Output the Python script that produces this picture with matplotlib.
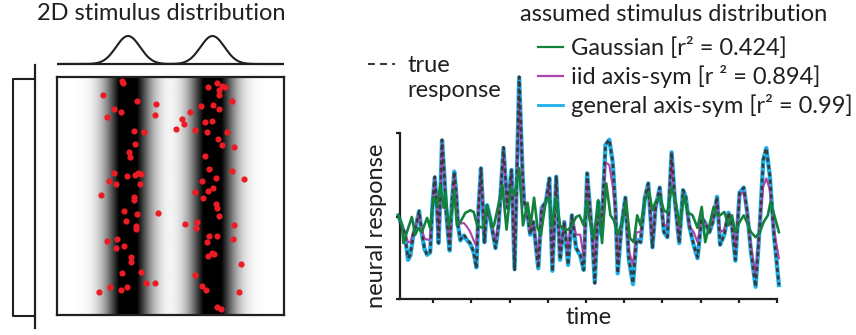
import numpy as np
import matplotlib
matplotlib.use("Agg")
import matplotlib.pyplot as plt
from matplotlib.lines import Line2D

plt.rcParams['font.family'] = ['Lato', 'DejaVu Sans']

W, H = 856, 335
INK = "#231f20"

# ---- left panel: 2D stimulus samples (image units, y up) ----
dots_x = [0.288, 0.290, 0.201, 0.353, 0.437, 0.250, 0.284, 0.221, 0.432, 0.340,
          0.382, 0.344, 0.316, 0.322, 0.253, 0.307, 0.343, 0.359, 0.369, 0.231,
          0.262, 0.366, 0.193, 0.340, 0.341, 0.446, 0.297, 0.353, 0.306, 0.350,
          0.347, 0.221, 0.265, 0.260, 0.293, 0.326, 0.324, 0.368, 0.285, 0.394,
          0.431, 0.234, 0.309, 0.284, 0.184,
          0.706, 0.666, 0.725, 0.740, 0.715, 0.713, 0.769, 0.634, 0.688, 0.712,
          0.588, 0.551, 0.560, 0.524, 0.651, 0.682, 0.606, 0.660, 0.747, 0.710,
          0.726, 0.779, 0.650, 0.668, 0.771, 0.825, 0.637, 0.701, 0.609, 0.666,
          0.687, 0.643, 0.700, 0.707, 0.715, 0.566, 0.618, 0.612, 0.781, 0.671,
          0.706, 0.776, 0.662, 0.682, 0.693, 0.666, 0.812, 0.609, 0.637, 0.656,
          0.801, 0.706, 0.721]
dots_y = [0.982, 0.975, 0.926, 0.900, 0.886, 0.865, 0.851, 0.832, 0.839, 0.774,
          0.771, 0.717, 0.686, 0.665, 0.595, 0.583, 0.589, 0.595, 0.593, 0.561,
          0.550, 0.550, 0.505, 0.494, 0.484, 0.428, 0.435, 0.425, 0.396, 0.376,
          0.362, 0.313, 0.321, 0.281, 0.289, 0.243, 0.223, 0.182, 0.175, 0.133,
          0.136, 0.119, 0.116, 0.104, 0.095,
          0.975, 0.957, 0.961, 0.957, 0.947, 0.923, 0.898, 0.877, 0.881, 0.867,
          0.853, 0.823, 0.802, 0.783, 0.813, 0.816, 0.776, 0.770, 0.767, 0.739,
          0.714, 0.707, 0.670, 0.613, 0.607, 0.572, 0.564, 0.575, 0.518, 0.519,
          0.534, 0.491, 0.468, 0.450, 0.414, 0.383, 0.390, 0.367, 0.377, 0.334,
          0.330, 0.321, 0.306, 0.259, 0.257, 0.248, 0.213, 0.167, 0.122, 0.104,
          0.097, 0.032, 0.024]
band_centers = [0.313, 0.685]
band_sd = 0.053

# ---- right panel: responses over time ----
t_resp = [0.9, 1.8, 2.6, 3.4, 4.0, 4.8, 5.7, 6.3, 7.0, 7.7,
          8.4, 9.2, 9.8, 10.4, 11.0, 11.4, 11.9, 12.3, 12.9, 13.4,
          13.9, 14.3, 14.9, 15.5, 16.0, 16.5, 17.1, 18.0, 18.9, 19.7,
          20.6, 21.3, 21.9, 22.5, 23.0, 23.4, 24.1, 25.0, 26.3, 27.1,
          28.4, 29.4, 30.5, 31.3, 32.0, 32.5, 33.4, 33.8, 34.5, 35.4,
          36.2, 37.5, 38.4, 39.5, 40.4, 41.2, 42.2, 43.2, 44.3, 45.3,
          46.3, 47.4, 48.5, 49.4, 50.3, 51.6, 52.3, 53.2, 54.0, 55.1,
          56.1, 57.0, 57.7, 58.3, 59.3, 60.3, 61.2, 62.3, 63.2, 64.3,
          65.4, 66.3, 67.4, 68.2, 69.3, 70.4, 71.3, 72.4, 73.3, 74.4,
          75.4, 76.1, 77.0, 78.2, 79.2, 80.3, 81.2, 82.3, 83.2, 84.3,
          85.1, 86.2, 87.3, 88.2, 89.1, 90.2, 91.3, 92.2, 93.2, 94.4,
          95.5, 96.4, 97.2, 98.1, 99.2, 100.5]
true_resp = [0.02, -0.10, -0.21, -0.49, -0.45, -0.21, -0.06, 0.07, -0.18, -0.37,
             -0.45, -0.42, 0.14, 0.48, 0.11, -0.31, 0.30, 0.92, 0.50, 0.06,
             -0.21, -0.39, 0.18, 0.54, 0.30, -0.10, -0.27, -0.21, -0.27, -0.31,
             -0.42, -0.61, 0.14, 0.58, 0.11, -0.30, 0.14, -0.04, -0.37, -0.10,
             0.83, 0.11, 0.56, -0.63, 0.70, 1.67, 0.50, 0.18, 0.08, -0.21,
             -0.06, -0.61, 0.11, 0.18, 0.46, -0.65, 0.48, -0.51, -0.06, -0.57,
             0.02, -0.37, -0.45, -0.63, 0.52, -0.21, -0.79, 0.18, -0.21, 0.86,
             0.92, 0.65, 0.11, -0.67, -0.10, 0.23, -0.49, -0.79, -0.27, -0.30,
             0.23, 0.40, -0.36, 0.11, 0.35, -0.18, -0.24, 0.77, 0.18, -0.31,
             0.32, 0.24, -0.10, -0.33, -0.48, -0.01, -0.07, -0.18, -0.06, 0.24,
             -0.33, -0.21, 0.05, -0.10, -0.51, 0.29, 0.35, 0.06, -0.42, -0.83,
             -0.10, 0.68, 0.82, 0.50, -0.21, -0.81]
general_sym = [0.02, -0.11, -0.22, -0.51, -0.46, -0.21, -0.06, 0.07, -0.19, -0.38,
               -0.45, -0.42, 0.14, 0.47, 0.11, -0.31, 0.30, 0.91, 0.50, 0.06,
               -0.22, -0.40, 0.18, 0.54, 0.30, -0.10, -0.28, -0.22, -0.28, -0.32,
               -0.42, -0.60, 0.14, 0.58, 0.11, -0.30, 0.14, -0.04, -0.37, -0.10,
               0.82, 0.11, 0.56, -0.62, 0.70, 1.66, 0.50, 0.18, 0.08, -0.21,
               -0.06, -0.61, 0.11, 0.18, 0.46, -0.64, 0.48, -0.51, -0.06, -0.57,
               0.02, -0.37, -0.46, -0.63, 0.52, -0.21, -0.78, 0.18, -0.21, 0.86,
               0.92, 0.65, 0.11, -0.67, -0.10, 0.23, -0.50, -0.80, -0.27, -0.30,
               0.23, 0.40, -0.36, 0.11, 0.35, -0.18, -0.24, 0.77, 0.18, -0.31,
               0.32, 0.24, -0.10, -0.34, -0.49, -0.01, -0.07, -0.18, -0.06, 0.24,
               -0.33, -0.21, 0.05, -0.10, -0.52, 0.29, 0.35, 0.06, -0.42, -0.83,
               -0.10, 0.68, 0.82, 0.50, -0.21, -0.81]
iid_sym = [0.02, -0.10, -0.18, -0.30, -0.30, -0.18, -0.06, 0.05, -0.15, -0.25,
           -0.27, -0.27, 0.12, 0.45, 0.10, -0.25, 0.28, 0.88, 0.48, 0.05,
           -0.16, -0.30, 0.16, 0.50, 0.28, -0.05, -0.08, -0.07, -0.12, -0.18,
           -0.28, -0.35, 0.12, 0.55, 0.10, -0.22, 0.12, -0.04, -0.28, -0.08,
           0.78, 0.10, 0.52, -0.52, 0.62, 1.45, 0.45, 0.16, 0.07, -0.18,
           -0.05, -0.52, 0.10, 0.16, 0.42, -0.55, 0.44, -0.42, -0.05, -0.40,
           0.00, -0.21, -0.21, -0.49, 0.45, -0.18, -0.57, 0.15, -0.16, 0.65,
           0.62, 0.36, 0.08, -0.52, -0.08, 0.20, -0.40, -0.57, -0.18, -0.18,
           0.20, 0.36, -0.28, 0.10, 0.30, -0.10, -0.10, 0.70, 0.16, -0.25,
           0.28, 0.20, -0.10, -0.18, -0.30, -0.01, -0.07, -0.15, -0.05, 0.20,
           -0.18, -0.15, 0.04, -0.08, -0.37, 0.26, 0.30, 0.05, -0.35, -0.69,
           -0.08, 0.36, 0.46, 0.33, -0.15, -0.49]
t_gauss = [0.9, 1.8, 2.2, 3.1, 4.4, 5.3, 6.1, 7.0, 8.4, 9.2,
           10.1, 11.0, 11.9, 12.7, 13.2, 14.0, 14.9, 15.5, 16.2, 17.1,
           18.4, 19.7, 20.6, 21.5, 22.4, 23.0, 24.1, 25.5, 25.9, 26.9,
           28.1, 29.2, 30.3, 31.3, 32.5, 33.5, 34.7, 35.5, 36.4, 37.3,
           38.2, 39.5, 40.4, 41.0, 42.2, 43.2, 44.1, 45.4, 46.3, 47.4,
           48.3, 49.4, 50.3, 50.7, 52.0, 53.2, 54.2, 55.3, 56.4, 57.3,
           58.3, 59.5, 60.5, 61.5, 62.5, 63.4, 64.3, 65.4, 66.5, 67.4,
           68.2, 69.3, 70.4, 71.3, 72.4, 73.5, 74.5, 75.7, 76.6, 77.9,
           79.2, 80.3, 81.2, 82.3, 83.4, 84.3, 85.1, 86.2, 87.3, 88.2,
           89.1, 90.2, 91.3, 92.2, 93.2, 94.4, 95.5, 96.5, 97.6, 98.3,
           99.3, 100.5]
gauss_fit = [0.02, -0.10, -0.31, -0.18, 0.00, -0.21, -0.13, -0.18, -0.01, -0.13,
             0.24, 0.14, 0.38, 0.11, 0.30, -0.10, 0.06, 0.32, -0.10, -0.06,
             0.05, 0.08, 0.06, -0.10, -0.12, -0.13, 0.14, -0.13, -0.10, 0.11,
             0.38, -0.15, 0.35, 0.26, 0.58, -0.10, 0.17, -0.10, 0.23, -0.13,
             -0.21, 0.20, 0.24, -0.12, 0.24, -0.10, -0.15, -0.15, -0.10, 0.00,
             0.02, -0.10, 0.20, 0.02, -0.25, 0.20, -0.31, 0.40, 0.02, -0.04,
             -0.21, -0.06, 0.18, -0.25, -0.30, 0.02, -0.10, 0.20, 0.30, 0.08,
             0.18, 0.24, 0.08, 0.05, 0.35, 0.18, -0.10, 0.26, 0.06, 0.02,
             -0.13, 0.12, -0.30, -0.10, 0.12, 0.02, 0.02, 0.06, -0.10, 0.02,
             -0.18, -0.06, 0.02, -0.07, -0.18, -0.24, -0.18, -0.06, 0.02, 0.18,
             0.02, -0.18]

legend_labels = ["Gaussian [r² = 0.424]", "iid axis-sym [r ² = 0.894]",
                 "general axis-sym [r² = 0.99]"]
c_green, c_mag, c_blue, c_true = "#13823c", "#ab45aa", "#1cb0ea", "#3a3a3a"
FS = 17

fig = plt.figure(figsize=(W / 100, H / 100), dpi=100)


def px_axes(x0, y0, x1, y1):
    return fig.add_axes([x0 / W, 1 - y1 / H, (x1 - x0) / W, (y1 - y0) / H])


def ftext(x, y, s, **kw):
    kw.setdefault("fontsize", FS)
    kw.setdefault("color", INK)
    fig.text(x / W, 1 - y / H, s, **kw)


def fline(x0, x1, y, **kw):
    fig.add_artist(Line2D([x0 / W, x1 / W], [1 - y / H] * 2,
                          transform=fig.transFigure, **kw))


# density image
xs = np.linspace(0, 1, 500)
dens = sum(np.exp(-(xs - c) ** 2 / (2 * band_sd ** 2)) for c in band_centers)
shade = 1 - np.clip(1.3 * dens, 0, 1) ** 0.6
ax_img = px_axes(57, 77, 284, 315)
ax_img.imshow(np.tile(shade, (50, 1)), cmap="gray", vmin=0, vmax=1,
              extent=(0, 1, 0, 1), aspect="auto", interpolation="bilinear")
ax_img.scatter(dots_x, dots_y, s=20, color="#ed1c24", linewidths=0, zorder=3)
ax_img.set_xlim(0, 1)
ax_img.set_ylim(0, 1)
ax_img.set_xticks([])
ax_img.set_yticks([])
for sp in ax_img.spines.values():
    sp.set_linewidth(1.6)
    sp.set_color(INK)

# top marginal
ax_top = px_axes(57, 28, 284, 68)
ax_top.plot(xs, dens / dens.max(), color=INK, lw=1.5)
ax_top.axhline(0, color=INK, lw=1.6)
ax_top.set_xlim(0, 1)
ax_top.set_ylim(-4 / 28, 36 / 28)
ax_top.axis("off")

# left marginal (uniform)
ax_left = px_axes(5, 77, 45, 315)
ax_left.plot([0, 1, 1, 0], [0.99, 0.99, -0.005, -0.005], color=INK, lw=1.5,
             clip_on=False)
ax_left.plot([0, 0], [-0.055, 1.05], color=INK, lw=1.6, clip_on=False)
ax_left.set_xlim(30 / 22, -10 / 22)
ax_left.set_ylim(0, 1)
ax_left.axis("off")

ftext(161, 20, "2D stimulus distribution", ha="center", va="baseline")

# response panel
ax = px_axes(400, 133, 777, 299)
ax.plot(t_resp, general_sym, color=c_blue, lw=3.1, clip_on=False, zorder=1)
ax.plot(t_resp, iid_sym, color=c_mag, lw=1.5, clip_on=False, zorder=2)
ax.plot(t_resp, true_resp, color=c_true, lw=1.9, dashes=(1.6, 1.2),
        clip_on=False, zorder=3)
ax.plot(t_gauss, gauss_fit, color=c_green, lw=1.9, clip_on=False, zorder=4)
ax.set_xlim(1.3, 100)
ax.set_ylim(-0.976, 1.0)
ax.set_xticks(np.arange(10, 101, 10))
ax.set_yticks([-0.976, 0, 1])
ax.tick_params(length=3, width=1.6, color=INK, labelbottom=False,
               labelleft=False)
for side in ("top", "right"):
    ax.spines[side].set_visible(False)
for side in ("left", "bottom"):
    ax.spines[side].set_linewidth(1.6)
    ax.spines[side].set_color(INK)

ftext(383, 226, "neural response", rotation=90, ha="center", va="baseline",
      rotation_mode="anchor")
ftext(589, 324, "time", ha="center", va="baseline")

# legend
ftext(674, 21, "assumed stimulus distribution", ha="center", va="baseline")
for lab, col, y in zip(legend_labels, [c_green, c_mag, c_blue], [47, 76, 105]):
    fline(538, 563, y, color=col, lw=1.6 if col != c_blue else 2.0)
    ftext(571, y + 8, lab, ha="left", va="baseline")
fline(368, 395, 64, color=c_true, lw=1.5, dashes=(3.3, 2.5))
ftext(407, 72, "true", ha="left", va="baseline")
ftext(407, 97, "response", ha="left", va="baseline")

fig.savefig("out.png", dpi=100)
